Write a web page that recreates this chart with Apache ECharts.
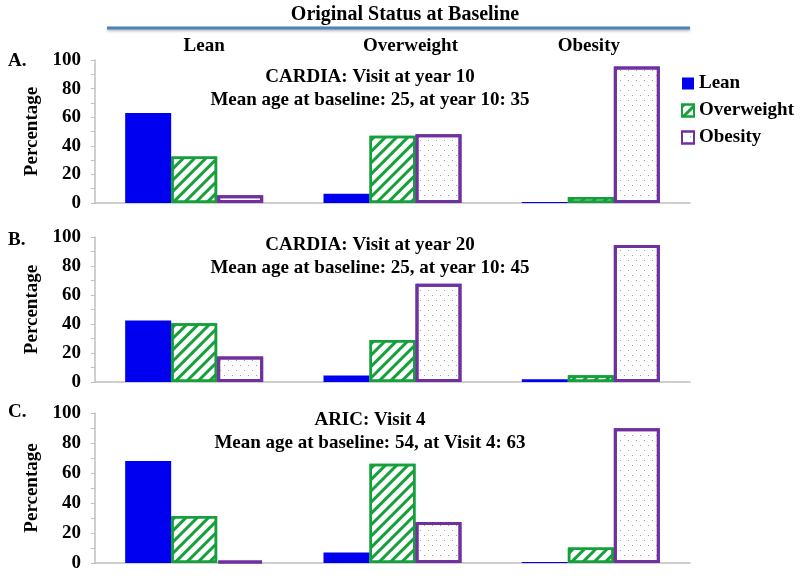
<!DOCTYPE html>
<html>
<head>
<meta charset="utf-8">
<script src="https://cdn.jsdelivr.net/npm/echarts@6/dist/echarts.min.js"></script>
<style>
html,body{margin:0;padding:0;background:#fff;}
#chart{width:800px;height:578px;}
</style>
</head>
<body>
<div id="chart"></div>
<script>
// ---- data ----
const categories = ['Lean', 'Overweight', 'Obesity'];
const seriesNames = ['Lean', 'Overweight', 'Obesity'];
const headerText = 'Original Status at Baseline';
const yAxisName = 'Percentage';
const yTickMin = 0, yTickMax = 100, yTickStep = 20;

const panelLetters = ['A.', 'B.', 'C.'];
const panelTitles = [
  ['CARDIA: Visit at year 10', 'Mean age at baseline: 25, at year 10: 35'],
  ['CARDIA: Visit at year 20', 'Mean age at baseline: 25, at year 10: 45'],
  ['ARIC: Visit 4', 'Mean age at baseline: 54, at Visit 4: 63']
];

const panelA_lean  = [63, 6.5, 0.7];
const panelA_over  = [32.5, 47, 4.2];
const panelA_obese = [5.5, 48, 95.5];

const panelB_lean  = [42.5, 4.4, 1.9];
const panelB_over  = [40.5, 29, 4.6];
const panelB_obese = [17.6, 67.8, 94.5];

const panelC_lean  = [68, 7, 0.7];
const panelC_over  = [31.3, 66.2, 10.4];
const panelC_obese = [1.5, 27.4, 89.8];

const panels = [
  [panelA_lean, panelA_over, panelA_obese],
  [panelB_lean, panelB_over, panelB_obese],
  [panelC_lean, panelC_over, panelC_obese]
];

// ---- layout / style ----
const FONT = '"Liberation Serif", "Times New Roman", serif';
const grids = [
  {left: 95, right: 110, top: 60, height: 143},
  {left: 95, right: 110, top: 237, height: 145},
  {left: 95, right: 110, top: 413, height: 150}
];
const titleTops = [66, 234, 409];
const letterTops = [52, 231, 403];
const AXIS_COLOR = '#bfbfbf';
const BLUE = '#0000f0';
const GREEN = '#14a03a';
const PURPLE = '#7030a0';

const seriesStyles = [
  {color: BLUE},
  {color: '#ffffff', borderColor: GREEN, borderWidth: 2.5,
   decal: {symbol: 'rect', symbolSize: 1, color: GREEN, dashArrayX: [1, 0], dashArrayY: [3, 5], rotation: -Math.PI / 4}},
  {color: '#ffffff', borderColor: PURPLE, borderWidth: 3,
   decal: {symbol: 'rect', symbolSize: 1, color: '#a596b4', dashArrayX: [[1, 7], [0, 4, 1, 3]], dashArrayY: [1, 4]}}
];

const xAxes = [], yAxes = [], series = [];
grids.forEach((g, i) => {
  xAxes.push({
    type: 'category', gridIndex: i, data: categories, position: 'bottom',
    axisLine: {show: true, lineStyle: {color: AXIS_COLOR, width: 1.5}},
    axisTick: {show: false}, axisLabel: {show: false}
  });
  yAxes.push({
    type: 'value', gridIndex: i, min: yTickMin, max: yTickMax, interval: yTickStep,
    axisLine: {show: true, lineStyle: {color: AXIS_COLOR, width: 1.5}},
    axisTick: {show: true, length: 4, lineStyle: {color: AXIS_COLOR}},
    minorTick: {show: true, splitNumber: 2, length: 4, lineStyle: {color: AXIS_COLOR}},
    splitLine: {show: false},
    axisLabel: {fontFamily: FONT, fontWeight: 'bold', fontSize: 19, color: '#000', margin: 14},
    name: yAxisName, nameLocation: 'middle', nameGap: 50, nameRotate: 90,
    nameTextStyle: {fontFamily: FONT, fontWeight: 'bold', fontSize: 19, color: '#000'}
  });
  panels[i].forEach((vals, s) => {
    series.push({
      type: 'bar', name: seriesNames[s], xAxisIndex: i, yAxisIndex: i,
      data: vals, barWidth: 46, barGap: '0%',
      itemStyle: seriesStyles[s],
      emphasis: {disabled: true}, silent: true
    });
  });
});
// top category labels over panel A
xAxes.push({
  type: 'category', gridIndex: 0, data: categories, position: 'top',
  axisLine: {show: false}, axisTick: {show: false},
  axisLabel: {
    show: true, margin: 4,
    formatter: (v, idx) => '{c' + idx + '|' + v + '}',
    rich: {
      c0: {fontFamily: FONT, fontWeight: 'bold', fontSize: 19, color: '#000', padding: [0, 0, 0, 20]},
      c1: {fontFamily: FONT, fontWeight: 'bold', fontSize: 19, color: '#000', padding: [0, 0, 0, 36]},
      c2: {fontFamily: FONT, fontWeight: 'bold', fontSize: 19, color: '#000', padding: [0, 4, 0, 0]}
    }
  }
});

const graphics = [
  {type: 'line', shape: {x1: 107, y1: 28, x2: 690, y2: 28},
   style: {stroke: '#4f81bd', lineWidth: 3, shadowColor: 'rgba(0,0,0,0.3)', shadowBlur: 3, shadowOffsetY: 1.5}},
  {type: 'text', x: 405, y: 5, style: {text: headerText, fontFamily: FONT, fontWeight: 'bold', fontSize: 20, fill: '#000', textAlign: 'center'}}
];
panelTitles.forEach((t, i) => {
  graphics.push({type: 'text', x: 370, y: titleTops[i],
    style: {text: t.join('\n'), fontFamily: FONT, fontWeight: 'bold', fontSize: 19, lineHeight: 23, fill: '#000', textAlign: 'center'}});
  graphics.push({type: 'text', x: 8, y: letterTops[i],
    style: {text: panelLetters[i], fontFamily: FONT, fontWeight: 'bold', fontSize: 19, fill: '#000'}});
});

const chart = echarts.init(document.getElementById('chart'), null, {renderer: 'canvas'});
chart.setOption({
  animation: false,
  backgroundColor: '#fff',
  grid: grids,
  xAxis: xAxes,
  yAxis: yAxes,
  series: series,
  legend: {
    orient: 'vertical', left: 676, top: 69, itemWidth: 12, itemHeight: 12, itemGap: 8,
    icon: 'rect',
    data: seriesNames,
    textStyle: {fontFamily: FONT, fontWeight: 'bold', fontSize: 19, color: '#000'},
    selectedMode: false
  },
  graphic: graphics
});
</script>
</body>
</html>
